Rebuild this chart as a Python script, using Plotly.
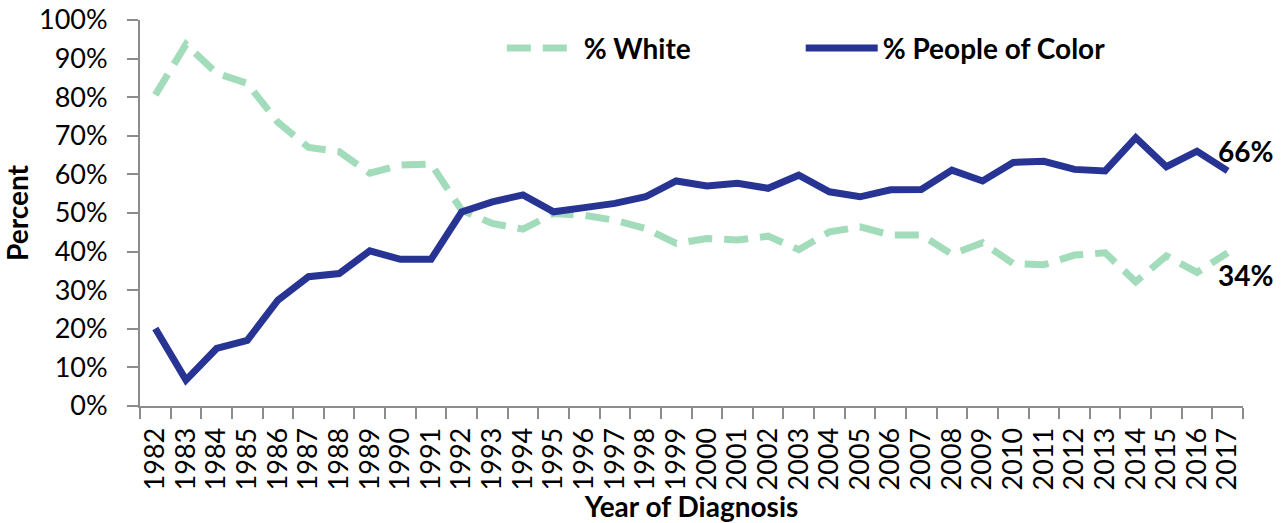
import plotly.graph_objects as go

years = [str(y) for y in range(1982, 2018)]

pct_white = [80.6, 93.7, 86.2, 83.6, 73.5, 67.0, 65.9, 60.3, 62.4, 62.7,
             50.7, 47.3, 45.8, 49.9, 49.4, 48.1, 46.0, 42.1, 43.4, 43.0,
             44.0, 40.5, 45.1, 46.4, 44.3, 44.3, 39.3, 42.3, 36.9, 36.6,
             39.1, 39.7, 32.2, 38.9, 34.6, 39.7]

pct_poc = [20.1, 6.7, 14.9, 17.0, 27.4, 33.5, 34.3, 40.2, 38.0, 38.0,
           50.3, 52.9, 54.7, 50.3, 51.4, 52.5, 54.2, 58.3, 57.0, 57.7,
           56.4, 59.8, 55.5, 54.2, 56.0, 56.1, 61.1, 58.3, 63.1, 63.4,
           61.3, 60.9, 69.5, 62.0, 66.0, 60.9]

end_labels = ["66%", "34%"]
end_label_y = [66, 34]

FONT = "Lato, 'Open Sans', sans-serif"

fig = go.Figure()

fig.add_trace(
    go.Scatter(
        x=years,
        y=pct_white,
        mode="lines",
        line=dict(color="#a3dcba", width=7, dash="24px,12px"),
        name="<b>% White</b>",
        legend="legend",
    )
)

fig.add_trace(
    go.Scatter(
        x=years,
        y=pct_poc,
        mode="lines",
        line=dict(color="#273494", width=7),
        name="<b>% People of Color</b>",
        legend="legend2",
    )
)

# labels sit next to the last year (category index)
last_idx = len(years) - 1
for txt, yv in zip(end_labels, end_label_y):
    fig.add_annotation(
        x=last_idx,
        y=yv,
        text=f"<b>{txt}</b>",
        showarrow=False,
        xanchor="left",
        yanchor="middle",
        xshift=-12,
        font=dict(family=FONT, size=28, color="black"),
    )

legend_style = dict(
    orientation="h",
    y=0.927,
    xanchor="left",
    yanchor="middle",
    itemwidth=72,
    font=dict(family=FONT, size=28, color="black"),
    bgcolor="rgba(0,0,0,0)",
)

fig.update_layout(
    width=1287,
    height=523,
    paper_bgcolor="white",
    plot_bgcolor="white",
    margin=dict(l=140, r=44, t=20, b=117),
    font=dict(family=FONT, color="black"),
    showlegend=True,
    legend=dict(x=0.328, **legend_style),
    legend2=dict(x=0.599, **legend_style),
)

fig.update_xaxes(
    type="category",
    range=[-0.5, last_idx + 0.5],
    tickmode="array",
    tickvals=years,
    ticktext=years,
    automargin=False,
    showline=True,
    linecolor="#8c8c8c",
    linewidth=2,
    showgrid=False,
    ticks="outside",
    tickson="boundaries",
    ticklen=11,
    tickwidth=2,
    tickcolor="#8c8c8c",
    tickangle=-90,
    ticklabelstandoff=9,
    tickfont=dict(family=FONT, size=27, color="black"),
    title=dict(
        text="<b>Year of Diagnosis</b>",
        font=dict(family=FONT, size=28, color="black"),
        standoff=6,
    ),
)

fig.update_yaxes(
    range=[0, 100],
    dtick=10,
    ticksuffix="%",
    automargin=False,
    showline=True,
    linecolor="#8c8c8c",
    linewidth=2,
    showgrid=False,
    zeroline=False,
    ticks="outside",
    ticklen=11,
    tickwidth=2,
    tickcolor="#8c8c8c",
    ticklabelstandoff=14,
    tickfont=dict(family=FONT, size=27, color="black"),
    title=dict(
        text="<b>Percent</b>",
        font=dict(family=FONT, size=28, color="black"),
        standoff=10,
    ),
)

# drop the default body margin so the figure fills the window exactly
fig.write_html(
    "out.html",
    config={"displayModeBar": False},
    post_script="document.body.style.margin = '0';",
)
